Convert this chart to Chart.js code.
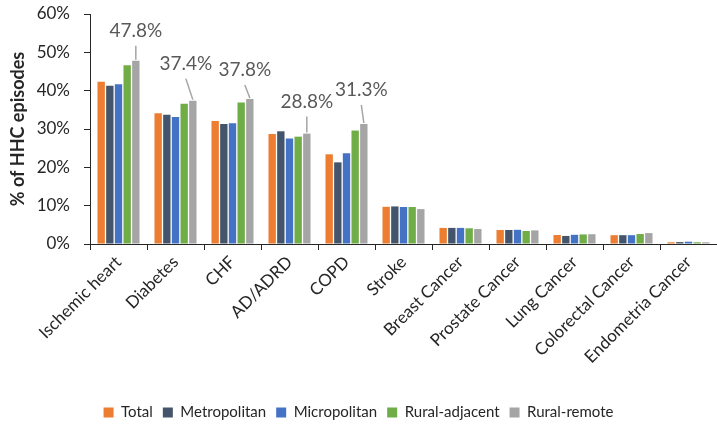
<!DOCTYPE html>
<html>
<head>
<meta charset="utf-8">
<script src="https://cdn.jsdelivr.net/npm/chart.js@4/dist/chart.umd.min.js"></script>
<style>
  html, body { margin: 0; padding: 0; background: #fff; }
  #wrap { width: 717px; height: 425px; position: relative; }
</style>
</head>
<body>
<div id="wrap"><canvas id="c"></canvas></div>
<script>
// Share of home health care episodes by condition and rurality (%)
const categories = ['Ischemic heart', 'Diabetes', 'CHF', 'AD/ADRD', 'COPD', 'Stroke',
  'Breast Cancer', 'Prostate Cancer', 'Lung Cancer', 'Colorectal Cancer', 'Endometria Cancer'];
const seriesNames = ['Total', 'Metropolitan', 'Micropolitan', 'Rural-adjacent', 'Rural-remote'];
const total        = [42.3, 34.1, 32.1, 28.7, 23.4, 9.7, 4.2, 3.65, 2.35, 2.3, 0.45];
const metropolitan = [41.3, 33.7, 31.3, 29.4, 21.3, 9.8, 4.2, 3.65, 2.1, 2.3, 0.5];
const micropolitan = [41.7, 33.1, 31.5, 27.5, 23.7, 9.65, 4.2, 3.7, 2.4, 2.3, 0.6];
const ruralAdjacent = [46.6, 36.6, 36.9, 28.0, 29.6, 9.65, 4.1, 3.4, 2.5, 2.6, 0.45];
const ruralRemote  = [47.8, 37.4, 37.8, 28.8, 31.3, 9.1, 3.9, 3.55, 2.55, 2.85, 0.45];
const yTicks = [0, 10, 20, 30, 40, 50, 60];
// Rural-remote bars that carry a callout label
const calloutIndexes = [0, 1, 2, 3, 4];

const colors = ['#ED7D31', '#44546A', '#4472C4', '#70AD47', '#A5A5A5'];
const seriesValues = [total, metropolitan, micropolitan, ruralAdjacent, ruralRemote];
const FONT = 'Lato, "Liberation Sans", sans-serif';

// plot box edges within the 717x425 canvas
const PLOT_TOP = 14, PLOT_BOTTOM = 244, PLOT_LEFT = 90;

// callout placement (label centre relative to bar top)
const calloutOffsets = [[0, -30], [-7, -37], [-5, -29], [0, -32], [-2.5, -34]];

const calloutPlugin = {
  id: 'callouts',
  afterDatasetsDraw(chart) {
    const meta = chart.getDatasetMeta(4);
    const ctx = chart.ctx;
    ctx.save();
    calloutIndexes.forEach((idx, k) => {
      const bar = meta.data[idx];
      const [dx, dy] = calloutOffsets[k];
      const lx = bar.x + dx, ly = bar.y + dy;
      ctx.strokeStyle = '#A5A5A5';
      ctx.lineWidth = 1.5;
      ctx.beginPath();
      ctx.moveTo(lx, ly + 15);
      ctx.lineTo(bar.x, bar.y - 1);
      ctx.stroke();
      ctx.fillStyle = '#595959';
      ctx.font = '19px ' + FONT;
      ctx.textAlign = 'center';
      ctx.textBaseline = 'middle';
      ctx.fillText(ruralRemote[idx].toFixed(1) + '%', lx, ly);
    });
    ctx.restore();
  }
};

new Chart(document.getElementById('c'), {
  type: 'bar',
  data: {
    labels: categories,
    datasets: seriesNames.map((name, i) => ({
      label: name,
      data: seriesValues[i],
      backgroundColor: colors[i],
      borderWidth: 0,
      categoryPercentage: 0.76,
      barPercentage: 0.85
    }))
  },
  options: {
    responsive: true,
    maintainAspectRatio: false,
    animation: false,
    layout: { padding: { top: PLOT_TOP, right: 0, left: 0, bottom: -5 } },
    plugins: {
      legend: {
        position: 'bottom',
        labels: {
          boxWidth: 10, boxHeight: 10, padding: 10,
          color: '#262626',
          font: { family: FONT, size: 15 }
        }
      },
      tooltip: { enabled: false }
    },
    scales: {
      x: {
        grid: { display: true, drawOnChartArea: false, tickLength: 6, color: '#262626', offset: true },
        border: { display: true, color: '#262626', width: 1 },
        ticks: { color: '#262626', font: { family: FONT, size: 17 }, minRotation: 45, maxRotation: 45, padding: 2 },
        afterFit(scale) {
          const lh = scale.chart.legend ? scale.chart.legend.height : 36;
          scale.height = 425 + 5 - PLOT_BOTTOM - lh;
          scale.paddingTop = 0;
          scale.paddingBottom = 0;
        }
      },
      y: {
        min: 0, max: 60,
        afterBuildTicks(scale) { scale.ticks = yTicks.map(v => ({ value: v })); },
        grid: { display: true, drawOnChartArea: false, tickLength: 6, color: '#262626' },
        border: { display: true, color: '#262626', width: 1 },
        ticks: { color: '#262626', font: { family: FONT, size: 17 }, padding: 14, callback: v => v + '%' },
        title: { display: true, text: '% of HHC episodes', color: '#262626', font: { family: FONT, size: 18, weight: 'bold' }, padding: { top: 7, bottom: 0 } },
        afterFit(scale) {
          scale.width = PLOT_LEFT;
          scale.paddingTop = 0;
          scale.paddingBottom = 0;
        }
      }
    }
  },
  plugins: [calloutPlugin]
});
</script>
</body>
</html>
